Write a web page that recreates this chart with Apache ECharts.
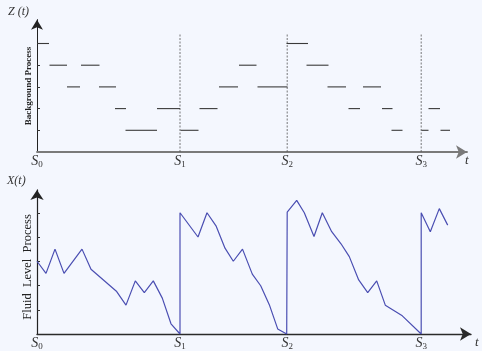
<!DOCTYPE html>
<html>
<head>
<meta charset="utf-8">
<script src="https://cdn.jsdelivr.net/npm/echarts@6/dist/echarts.min.js"></script>
<style>
  html, body { margin: 0; padding: 0; background: #F4F7FE; }
  #chart { width: 482px; height: 351px; }
</style>
</head>
<body>
<div id="chart"></div>
<script>
// Regeneration epochs S0..S3 on the shared time axis
const sTimes = [0, 14.3, 25.02, 38.42];
const sNames = ['0', '1', '2', '3'];

// Background process Z(t): piecewise-constant sojourns (start, end, level)
const zStart = [0, 1.25, 3.0, 4.4, 6.2, 7.8, 8.85, 12.0, 14.35, 16.25, 18.2, 20.2, 22.05, 24.95, 26.95, 29.05, 31.15, 32.6, 34.5, 35.45, 38.45, 39.15, 40.35];
const zEnd   = [1.2, 3.0, 4.3, 6.25, 7.9, 8.9, 12.0, 14.3, 16.15, 18.05, 20.1, 21.95, 25.05, 27.1, 29.15, 30.9, 32.3, 34.4, 35.55, 36.55, 39.15, 40.3, 41.3];
const zLevel = [5, 4, 3, 4, 3, 2, 1, 2, 1, 2, 3, 4, 3, 5, 4, 3, 2, 3, 2, 1, 1, 2, 1];

// Fluid level process X(t): sampled path with resets at each epoch
const xTime  = [0, 0.9, 1.8, 2.7, 4.5, 5.4, 7.97, 8.9, 9.83, 10.73, 11.63, 12.53, 13.4, 14.3, 14.3, 16.1, 17.0, 17.9, 18.8, 19.63, 20.55, 21.53, 22.37, 23.23, 24.07, 24.97, 25.02, 25.97, 26.73, 27.7, 28.53, 29.47, 30.4, 31.23, 32.17, 33.07, 33.97, 34.83, 36.53, 38.42, 38.42, 39.33, 40.23, 41.07];
const xLevel = [3.0, 2.5, 3.5, 2.5, 3.5, 2.67, 1.75, 1.19, 2.19, 1.71, 2.19, 1.48, 0.42, 0, 5.0, 4.0, 5.0, 4.46, 3.54, 3.0, 3.5, 2.47, 1.99, 1.21, 0.21, 0, 5.03, 5.51, 5.0, 4.02, 5.0, 4.22, 3.72, 3.19, 2.23, 1.71, 2.19, 1.19, 0.75, 0, 5.0, 4.22, 5.17, 4.49];

const levelTicks = [1, 2, 3, 4, 5];

const chart = echarts.init(document.getElementById('chart'), null, { renderer: 'canvas' });

const serif = '"Liberation Serif", "DejaVu Serif", serif';

function sLabel(value) {
  let best = 0;
  sTimes.forEach((s, i) => { if (Math.abs(s - value) < Math.abs(sTimes[best] - value)) best = i; });
  return '{s|S}{n|' + sNames[best] + '}';
}

const labelRich = {
  s: { fontFamily: serif, fontStyle: 'italic', fontSize: 14, color: '#333' },
  n: { fontFamily: serif, fontSize: 9, color: '#333', verticalAlign: 'bottom', padding: [6, 0, 0, 0] }
};

const zSegments = zStart.map((s, i) => [s, zEnd[i], zLevel[i]]);
const xPath = xTime.map((t, i) => [t, xLevel[i]]);

const option = {
  backgroundColor: '#F4F7FE',
  animation: false,
  grid: [
    { left: 37, right: 15, top: 152 - 6.1 * 21.7, bottom: 351 - 152 },
    { left: 37, right: 11, top: 334.3 - 5.94 * 24.3, bottom: 351 - 334.3 }
  ],
  xAxis: [
    {
      gridIndex: 0, type: 'value', min: 0, max: 43.0,
      splitLine: { show: false },
      axisLine: { lineStyle: { color: '#7a7a7a', width: 1.8 }, symbol: ['none', 'arrow'], symbolSize: [10, 11] },
      axisTick: { show: false },
      axisLabel: { customValues: sTimes, formatter: sLabel, rich: labelRich, margin: 2 }
    },
    {
      gridIndex: 1, type: 'value', min: 0, max: 43.4,
      splitLine: { show: false },
      axisLine: { lineStyle: { color: '#2a2a2a', width: 1.4 }, symbol: ['none', 'arrow'], symbolSize: [10, 11] },
      axisTick: { show: false },
      axisLabel: { customValues: sTimes, formatter: sLabel, rich: labelRich, margin: 2 }
    }
  ],
  yAxis: [
    {
      gridIndex: 0, type: 'value', min: 0, max: 6.1,
      splitLine: { show: false },
      axisLine: { lineStyle: { color: '#222', width: 1 }, symbol: ['none', 'arrow'], symbolSize: [9, 10] },
      axisTick: { show: true, inside: true, length: 3, customValues: levelTicks, lineStyle: { color: '#333' } },
      axisLabel: { show: false }
    },
    {
      gridIndex: 1, type: 'value', min: 0, max: 5.94,
      splitLine: { show: false },
      axisLine: { lineStyle: { color: '#222', width: 1.2 }, symbol: ['none', 'arrow'], symbolSize: [10, 10] },
      axisTick: { show: true, inside: true, length: 3, customValues: levelTicks, lineStyle: { color: '#333' } },
      axisLabel: { show: false }
    }
  ],
  graphic: [
    { type: 'text', left: 8, top: 6, style: { text: 'Z (t)', font: 'italic 12px ' + serif, fill: '#333' } },
    { type: 'text', left: 7, top: 175, style: { text: 'X(t)', font: 'italic 12px ' + serif, fill: '#333' } },
    { type: 'text', left: 465, top: 154, style: { text: 't', font: 'italic 13px ' + serif, fill: '#333' } },
    { type: 'text', left: 475, top: 336, style: { text: 't', font: 'italic 13px ' + serif, fill: '#333' } },
    { type: 'text', x: 29, y: 86, rotation: Math.PI / 2,
      style: { text: 'Background Process', font: 'bold 9px ' + serif, fill: '#222', align: 'center', verticalAlign: 'middle' } },
    { type: 'text', x: 28, y: 267, rotation: Math.PI / 2,
      style: { text: 'Fluid  Level  Process', font: '12.5px ' + serif, fill: '#222', align: 'center', verticalAlign: 'middle' } }
  ],
  series: [
    {
      // dashed markers at the regeneration epochs
      type: 'custom', xAxisIndex: 0, yAxisIndex: 0,
      data: sTimes.slice(1).map(s => [s]),
      renderItem(params, api) {
        const p0 = api.coord([api.value(0), 0]);
        const p1 = api.coord([api.value(0), 5.48]);
        return { type: 'line', shape: { x1: p0[0], y1: p0[1], x2: p1[0], y2: p1[1] },
                 style: { stroke: '#555', lineWidth: 0.8, lineDash: [2, 1.5] } };
      }
    },
    {
      // horizontal sojourn segments of Z(t)
      type: 'custom', xAxisIndex: 0, yAxisIndex: 0,
      data: zSegments,
      renderItem(params, api) {
        const p0 = api.coord([api.value(0), api.value(2)]);
        const p1 = api.coord([api.value(1), api.value(2)]);
        return { type: 'line', shape: { x1: p0[0], y1: p0[1], x2: p1[0], y2: p1[1] },
                 style: { stroke: '#3a3a3a', lineWidth: 1.1 } };
      }
    },
    {
      type: 'line', xAxisIndex: 1, yAxisIndex: 1,
      data: xPath, showSymbol: false, symbol: 'none',
      lineStyle: { color: '#4A4EB2', width: 1.2 }
    }
  ]
};

chart.setOption(option);
</script>
</body>
</html>
